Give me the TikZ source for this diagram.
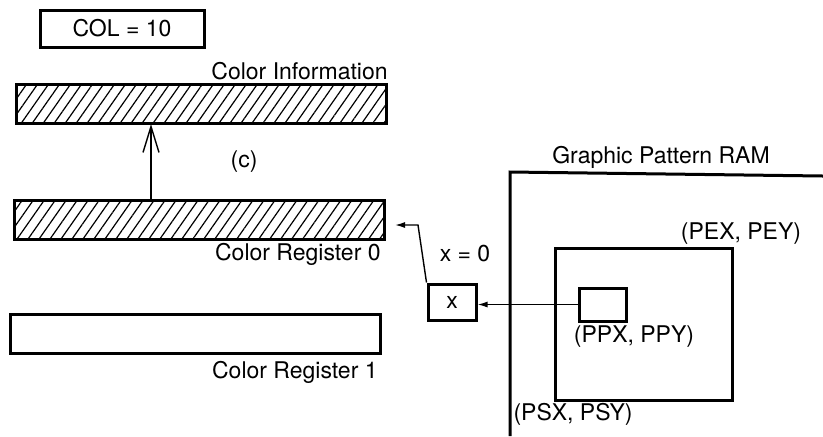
\documentclass[tikz,border=0pt]{standalone}
\usepackage{fontspec}
\setmainfont{TeX Gyre Heros}
\usetikzlibrary{arrows.meta,patterns.meta}

\begin{document}
\begin{tikzpicture}[x=0.5pt,y=-0.5pt,
  lbl/.style={font=\fontsize{11.5}{13}\selectfont, inner sep=0pt},
  regbar/.style={draw, line width=1.5pt, inner sep=0pt, minimum width=185pt, minimum height=19.5pt},
  hatched/.style={pattern={Lines[angle=55,distance=4.5pt,line width=0.6pt]}},
  box/.style={draw, line width=1.5pt, inner sep=0pt},
  arr/.style={-{Latex[length=5pt,width=3pt]}, line width=0.7pt},
  openarr/.style={-{Straight Barb[length=13pt,width=8pt]}, line width=0.7pt}]
\useasboundingbox (0,0) rectangle (823,436);
%% ---- left: colour registers ----
\node[box, lbl, minimum width=82pt, minimum height=18.5pt] (col) at (122,28.5) {COL = 10};
\node[regbar, hatched] (cinfo) at (201.5,104) {};
\node[lbl, anchor=east] (cinfolbl) at (388,71) {Color Information};
\node[regbar, hatched] (creg0) at (199.5,220) {};
\node[lbl, anchor=east] (creg0lbl) at (381,254) {Color Register 0};
\node[regbar] (creg1) at (195.5,333.5) {};
\node[lbl, anchor=east] (creg1lbl) at (378,372) {Color Register 1};
\node[lbl] (clbl) at (244,162) {(c)};
\coordinate (upx) at (151,0);
\draw[openarr] (creg0.north -| upx) -- (cinfo.south -| upx);
%% ---- right: pattern RAM ----
\draw[line width=1.5pt] (510,436) -- (510,172) -- (823,176);
\node[lbl] (ramlbl) at (661,157) {Graphic Pattern RAM};
\node[box, minimum width=88.5pt, minimum height=76pt] (pat) at (643.5,324) {};
\node[lbl] (pelbl) at (741,234) {(PEX, PEY)};
\node[lbl] (pslbl) at (573,414) {(PSX, PSY)};
\node[box, minimum width=23.5pt, minimum height=16.5pt] (pix) at (602.5,304.5) {};
\node[lbl] (pplbl) at (634,337) {(PPX, PPY)};
%% ---- pixel value back to register ----
\node[box, lbl, minimum width=24pt, minimum height=18pt] (xval) at (452,302) {x};
\node[lbl] (xzero) at (465,254) {x = 0};
\coordinate (bend) at (418,225);
\coordinate (regin) at (395,225);
\draw[arr] (pix.west) -- (pix.west -| xval.east);
\draw[arr] (xval.north west) -- (bend) -- (regin);
\end{tikzpicture}
\end{document}
